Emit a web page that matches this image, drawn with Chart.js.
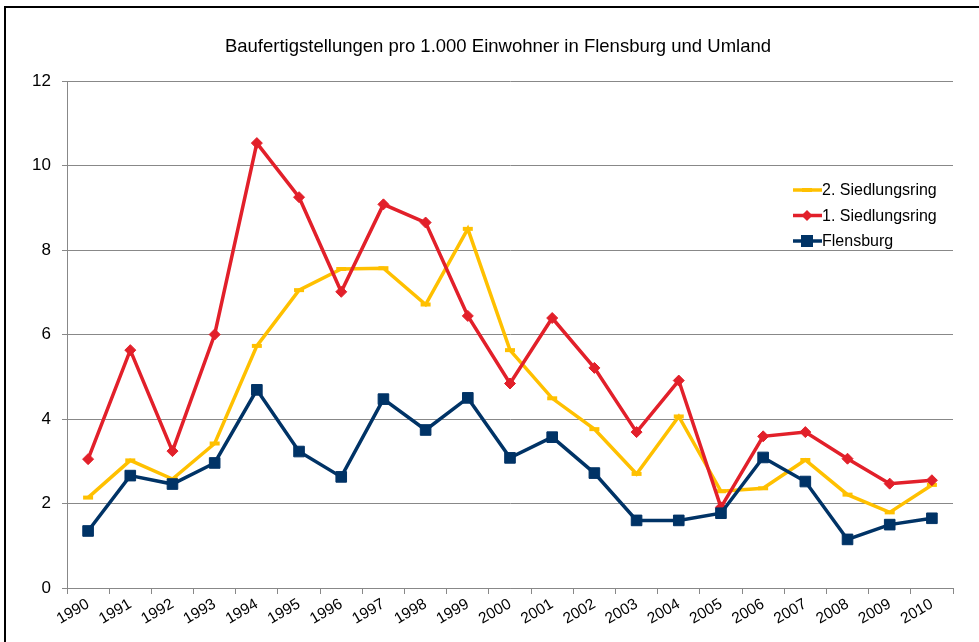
<!DOCTYPE html>
<html>
<head>
<meta charset="utf-8">
<script src="https://cdn.jsdelivr.net/npm/chart.js@4.4.1/dist/chart.umd.min.js"></script>
<style>
body { margin: 0; background: #fff; }
#wrap { position: relative; width: 979px; height: 642px; overflow: hidden; background: #fff; }
#frame { position: absolute; left: 4px; top: 6px; width: 1000px; height: 700px;
         border-left: 2px solid #000; border-top: 2px solid #000; pointer-events: none; }
</style>
</head>
<body>
<div id="wrap">
  <canvas id="chart" width="979" height="642"></canvas>
  <div id="frame"></div>
</div>
<script>
const titleText = "Baufertigstellungen pro 1.000 Einwohner in Flensburg und Umland";
const years = ["1990", "1991", "1992", "1993", "1994", "1995", "1996", "1997", "1998", "1999", "2000",
               "2001", "2002", "2003", "2004", "2005", "2006", "2007", "2008", "2009", "2010"];
const ring2 = [2.14, 3.02, 2.58, 3.42, 5.73, 7.05, 7.55, 7.57, 6.71, 8.50, 5.63,
               4.49, 3.76, 2.70, 4.06, 2.29, 2.36, 3.03, 2.21, 1.79, 2.44];
const ring1 = [3.05, 5.63, 3.24, 6.00, 10.53, 9.25, 7.01, 9.08, 8.65, 6.44, 4.84,
               6.39, 5.21, 3.69, 4.91, 1.91, 3.59, 3.69, 3.06, 2.47, 2.55];
const flensburg = [1.35, 2.66, 2.46, 2.96, 4.69, 3.23, 2.63, 4.47, 3.74, 4.50, 3.08,
                   3.57, 2.72, 1.60, 1.60, 1.77, 3.09, 2.52, 1.15, 1.50, 1.65];
const seriesLabels = ["2. Siedlungsring", "1. Siedlungsring", "Flensburg"];
const yTicks = [0, 2, 4, 6, 8, 10, 12];

const font = "'Liberation Sans', Arial, sans-serif";
const yellow = "#FFC000";
const red = "#E2202A";
const navy = "#003366";

// small marker drawer shared by the legend
function drawMarker(ctx, style, x, y, color) {
    ctx.save();
    ctx.fillStyle = color;
    if (style === "line") {
        ctx.fillRect(x - 5, y - 2, 10, 4);
    } else if (style === "rectRot") {
        ctx.beginPath();
        ctx.moveTo(x, y - 5.5);
        ctx.lineTo(x + 5.5, y);
        ctx.lineTo(x, y + 5.5);
        ctx.lineTo(x - 5.5, y);
        ctx.closePath();
        ctx.fill();
    } else {
        ctx.fillRect(x - 6, y - 6, 12, 12);
    }
    ctx.restore();
}

const titleAndLegend = {
    id: "titleAndLegend",
    afterDraw(chart) {
        const ctx = chart.ctx;
        ctx.save();
        ctx.fillStyle = "#000";
        ctx.font = "18.5px " + font;
        ctx.textAlign = "center";
        ctx.textBaseline = "middle";
        ctx.fillText(titleText, 498, 47);

        ctx.font = "16px " + font;
        ctx.textAlign = "left";
        chart.data.datasets.forEach((ds, i) => {
            const y = 190 + i * 25.5;
            ctx.strokeStyle = ds.borderColor;
            ctx.lineWidth = 3.5;
            ctx.beginPath();
            ctx.moveTo(793, y);
            ctx.lineTo(822, y);
            ctx.stroke();
            drawMarker(ctx, ds.pointStyle, 807, y, ds.borderColor);
            ctx.fillStyle = "#000";
            ctx.fillText(ds.label, 822, y + 1);
        });
        ctx.restore();
    }
};

const ctx = document.getElementById("chart").getContext("2d");
new Chart(ctx, {
    type: "line",
    data: {
        labels: years,
        datasets: [
            {
                label: seriesLabels[0],
                data: ring2,
                borderColor: yellow,
                backgroundColor: yellow,
                borderWidth: 3.5,
                pointStyle: "line",
                pointRadius: 5,
                pointBorderWidth: 4,
                pointBorderColor: yellow,
                order: 2
            },
            {
                label: seriesLabels[1],
                data: ring1,
                borderColor: red,
                backgroundColor: red,
                borderWidth: 3.5,
                pointStyle: "rectRot",
                pointRadius: 5.5,
                pointBorderWidth: 1,
                order: 1
            },
            {
                label: seriesLabels[2],
                data: flensburg,
                borderColor: navy,
                backgroundColor: navy,
                borderWidth: 3.5,
                pointStyle: "rect",
                pointRadius: 7.5,
                pointBorderWidth: 1,
                order: 0
            }
        ]
    },
    options: {
        responsive: false,
        animation: false,
        layout: { padding: { top: 81, right: 26, left: 0, bottom: 0 } },
        plugins: {
            legend: { display: false },
            title: { display: false },
            tooltip: { enabled: false }
        },
        elements: { line: { tension: 0 } },
        scales: {
            x: {
                offset: true,
                grid: { offset: true, drawOnChartArea: false, tickLength: 6, color: "#888" },
                border: { color: "#888" },
                ticks: {
                    autoSkip: false, minRotation: 30, maxRotation: 30,
                    color: "#000", padding: 1,
                    font: { family: font, size: 15.5 }
                },
                afterFit: s => { s.height = 54; }
            },
            y: {
                min: 0,
                max: 12,
                afterBuildTicks: s => { s.ticks = yTicks.map(v => ({ value: v })); },
                grid: { color: "#888", tickLength: 5 },
                border: { color: "#888" },
                ticks: {
                    color: "#000", padding: 11,
                    font: { family: font, size: 17 }
                },
                afterFit: s => { s.width = 67; }
            }
        }
    },
    plugins: [titleAndLegend]
});
</script>
</body>
</html>
